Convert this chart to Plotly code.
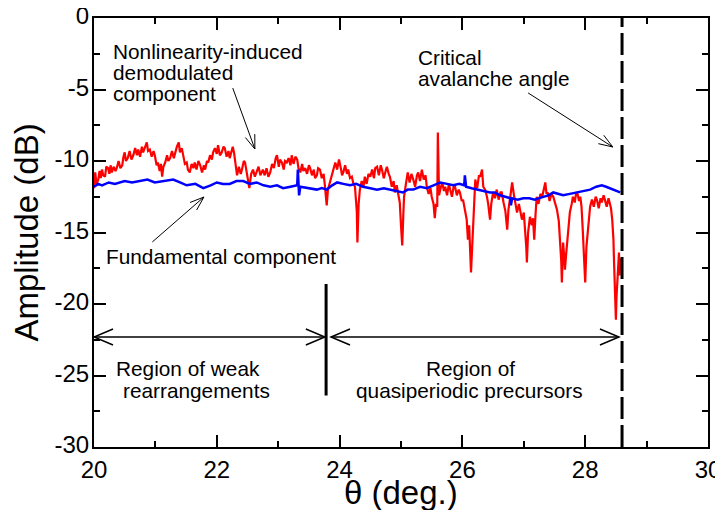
import plotly.graph_objects as go

# ---------------- data ----------------
red_theta = [
    20.00, 20.01, 20.02, 20.04, 20.07, 20.09, 20.11, 20.13, 20.15, 20.18,
    20.20, 20.23, 20.25, 20.27, 20.29, 20.32, 20.35, 20.37, 20.40, 20.43,
    20.46, 20.48, 20.50, 20.52, 20.55, 20.58, 20.61, 20.64, 20.67, 20.70,
    20.72, 20.75, 20.78, 20.80, 20.83, 20.86, 20.88, 20.91, 20.94, 20.97,
    20.99, 21.02, 21.04, 21.07, 21.09, 21.11, 21.13, 21.16, 21.19, 21.21,
    21.24, 21.27, 21.30, 21.32, 21.35, 21.38, 21.40, 21.43, 21.45, 21.48,
    21.51, 21.53, 21.56, 21.59, 21.62, 21.64, 21.67, 21.70, 21.73, 21.76,
    21.79, 21.81, 21.84, 21.86, 21.89, 21.92, 21.94, 21.97, 22.00, 22.02,
    22.05, 22.08, 22.11, 22.13, 22.16, 22.19, 22.21, 22.24, 22.26, 22.28,
    22.31, 22.33, 22.36, 22.39, 22.41, 22.44, 22.46, 22.48, 22.51, 22.53,
    22.56, 22.59, 22.62, 22.65, 22.68, 22.71, 22.75, 22.78, 22.81, 22.84,
    22.87, 22.90, 22.93, 22.96, 22.98, 23.01, 23.03, 23.06, 23.09, 23.11,
    23.14, 23.17, 23.20, 23.22, 23.25, 23.28, 23.31, 23.33, 23.36, 23.39,
    23.41, 23.44, 23.47, 23.50, 23.52, 23.55, 23.58, 23.60, 23.63, 23.65,
    23.68, 23.71, 23.74, 23.76, 23.79, 23.81, 23.84, 23.87, 23.90, 23.93,
    23.96, 23.99, 24.02, 24.04, 24.06, 24.09, 24.12, 24.14, 24.17, 24.20,
    24.22, 24.25, 24.28, 24.29, 24.31, 24.33, 24.36, 24.39, 24.41, 24.44,
    24.47, 24.50, 24.53, 24.56, 24.58, 24.61, 24.64, 24.67, 24.69, 24.72,
    24.75, 24.77, 24.80, 24.82, 24.85, 24.88, 24.90, 24.93, 24.95, 24.98,
    25.00, 25.02, 25.04, 25.05, 25.08, 25.11, 25.14, 25.17, 25.20, 25.23,
    25.26, 25.28, 25.31, 25.34, 25.37, 25.40, 25.42, 25.45, 25.48, 25.50,
    25.53, 25.55, 25.57, 25.59, 25.60, 25.61, 25.62, 25.64, 25.67, 25.70,
    25.72, 25.75, 25.78, 25.80, 25.83, 25.86, 25.88, 25.91, 25.94, 25.96,
    25.99, 26.01, 26.04, 26.07, 26.09, 26.11, 26.14, 26.16, 26.17, 26.19,
    26.21, 26.24, 26.27, 26.29, 26.32, 26.34, 26.37, 26.40, 26.42, 26.45,
    26.47, 26.50, 26.53, 26.56, 26.59, 26.62, 26.64, 26.67, 26.70, 26.73,
    26.75, 26.78, 26.81, 26.84, 26.87, 26.89, 26.92, 26.95, 26.97, 27.00,
    27.02, 27.04, 27.05, 27.07, 27.10, 27.13, 27.15, 27.17, 27.19, 27.21,
    27.24, 27.27, 27.30, 27.32, 27.35, 27.37, 27.39, 27.42, 27.45, 27.48,
    27.51, 27.54, 27.57, 27.59, 27.61, 27.62, 27.63, 27.64, 27.66, 27.67,
    27.69, 27.70, 27.72, 27.75, 27.78, 27.80, 27.83, 27.85, 27.87, 27.90,
    27.92, 27.94, 27.96, 27.98, 28.00, 28.02, 28.05, 28.08, 28.11, 28.14,
    28.17, 28.19, 28.22, 28.25, 28.27, 28.30, 28.32, 28.35, 28.38, 28.40,
    28.42, 28.44, 28.46, 28.47, 28.49, 28.50, 28.51, 28.52, 28.53, 28.55,
    28.56, 28.57, 28.58, 28.59,
]
red_amp = [
    -11.9, -11.0, -10.8, -11.6, -11.3, -10.7, -11.2, -10.6, -11.0, -11.1,
    -10.4, -10.5, -10.9, -10.3, -10.8, -10.4, -10.7, -10.5, -10.0, -10.5,
    -10.3, -9.7, -9.4, -10.0, -9.8, -9.3, -9.9, -9.6, -9.1, -9.6,
    -9.2, -9.7, -9.0, -9.4, -9.0, -8.7, -9.3, -9.2, -9.7, -9.3,
    -9.6, -10.3, -10.1, -10.7, -10.2, -11.1, -10.4, -10.1, -9.6, -10.0,
    -9.8, -9.3, -9.8, -9.4, -9.0, -8.7, -9.4, -9.1, -9.6, -10.2,
    -10.1, -10.6, -10.8, -10.2, -10.5, -10.1, -10.6, -10.0, -10.3, -10.8,
    -10.3, -10.6, -10.0, -10.1, -9.6, -9.9, -9.4, -9.1, -9.5, -8.9,
    -9.6, -9.4, -9.0, -9.1, -9.7, -9.3, -9.8, -9.3, -9.0, -9.4,
    -10.2, -11.0, -10.4, -10.9, -10.6, -10.0, -10.1, -10.7, -11.3, -11.9,
    -10.9, -10.6, -11.1, -10.8, -10.4, -11.0, -10.6, -11.0, -10.5, -11.1,
    -10.8, -10.2, -10.5, -9.8, -9.6, -10.4, -9.9, -10.1, -10.6, -10.0,
    -10.1, -9.8, -10.3, -9.6, -10.2, -9.7, -9.9, -10.5, -10.8, -10.2,
    -10.7, -10.5, -10.9, -10.3, -10.5, -11.0, -10.6, -11.2, -11.0, -10.5,
    -10.6, -11.2, -10.9, -11.7, -13.1, -12.0, -11.5, -10.9, -10.5, -10.1,
    -10.6, -9.9, -10.5, -11.0, -10.8, -10.3, -10.9, -10.6, -11.2, -11.1,
    -11.5, -11.8, -13.5, -15.7, -13.0, -12.0, -11.4, -11.8, -11.1, -11.6,
    -10.9, -11.1, -10.6, -11.2, -10.5, -10.4, -11.0, -10.3, -10.6, -11.2,
    -10.7, -10.4, -10.9, -11.1, -11.8, -11.4, -12.2, -11.7, -12.2, -12.9,
    -14.5, -15.9, -13.5, -12.5, -11.6, -10.8, -11.5, -10.9, -11.3, -11.8,
    -11.0, -10.8, -11.4, -10.6, -11.3, -11.0, -11.8, -12.3, -11.9, -12.5,
    -13.0, -14.0, -13.0, -13.2, -8.0, -11.5, -12.4, -12.0, -11.5, -12.1,
    -11.8, -12.4, -11.6, -12.0, -12.5, -11.7, -11.8, -12.4, -12.0, -12.2,
    -12.8, -12.7, -13.5, -14.1, -15.5, -14.5, -17.8, -16.0, -14.8, -12.5,
    -11.3, -11.9, -11.0, -11.1, -10.6, -11.8, -12.0, -12.5, -13.0, -14.1,
    -13.0, -12.2, -12.6, -12.0, -12.7, -12.2, -12.2, -12.9, -13.5, -14.8,
    -13.4, -12.5, -11.5, -12.4, -13.0, -13.6, -13.0, -13.8, -14.1, -13.6,
    -14.6, -16.0, -17.1, -15.0, -13.9, -14.5, -14.0, -15.5, -13.8, -12.5,
    -13.0, -12.3, -12.5, -12.0, -11.5, -12.3, -12.2, -12.8, -12.3, -12.5,
    -12.9, -13.4, -14.2, -15.5, -17.0, -18.5, -16.5, -15.7, -16.8, -17.6,
    -16.5, -16.0, -14.5, -13.6, -13.0, -12.5, -12.9, -12.3, -12.2, -12.8,
    -12.5, -13.2, -14.8, -16.5, -18.5, -16.0, -14.3, -13.2, -12.7, -13.2,
    -12.5, -12.7, -13.3, -12.6, -12.9, -12.4, -12.7, -13.2, -12.6, -12.9,
    -13.3, -14.1, -15.5, -17.1, -19.0, -21.1, -19.5, -18.8, -17.5, -16.4,
    -18.0, -17.0, -17.6, -16.8,
]

blue_theta = [20.00, 20.07, 20.13, 20.24, 20.34, 20.50, 20.62, 20.75, 20.87, 20.99,
              21.14, 21.29, 21.40, 21.51, 21.65, 21.78, 21.90, 22.00, 22.10, 22.21,
              22.32, 22.43, 22.54, 22.65, 22.76, 22.87, 22.98, 23.08, 23.20, 23.31,
              23.32, 23.34, 23.36, 23.50, 23.63, 23.71, 23.79, 23.88, 23.96, 24.06,
              24.17, 24.27, 24.38, 24.50, 24.61, 24.72, 24.82, 24.93, 25.03, 25.11,
              25.20, 25.31, 25.42, 25.53, 25.64, 25.75, 25.85, 25.95, 26.03, 26.04,
              26.06, 26.15, 26.24, 26.35, 26.45, 26.53, 26.61, 26.70, 26.78, 26.79,
              26.81, 26.90, 26.99, 27.09, 27.18, 27.25, 27.31, 27.40, 27.48, 27.56,
              27.64, 27.75, 27.87, 27.98, 28.08, 28.18, 28.27, 28.34, 28.40, 28.49,
              28.57]
blue_amp = [-11.8, -11.6, -11.7, -11.5, -11.6, -11.4, -11.5, -11.4, -11.3, -11.5,
            -11.4, -11.3, -11.5, -11.7, -11.6, -11.9, -11.7, -11.5, -11.6, -11.6,
            -11.4, -11.4, -11.6, -11.5, -11.7, -11.8, -11.7, -11.9, -11.8, -11.7,
            -10.6, -12.4, -11.8, -11.9, -12.0, -11.9, -12.0, -11.7, -11.5, -11.6,
            -11.7, -11.6, -11.8, -11.9, -12.0, -11.9, -12.0, -12.1, -12.2, -12.0,
            -12.0, -11.8, -11.9, -11.7, -11.5, -11.6, -11.7, -11.6, -11.7, -11.0,
            -11.8, -11.9, -12.0, -12.1, -12.2, -12.2, -12.4, -12.5, -12.6, -13.1,
            -12.6, -12.7, -12.6, -12.6, -12.7, -12.6, -12.5, -12.4, -12.2, -12.3,
            -12.4, -12.3, -12.2, -12.1, -12.0, -11.8, -11.7, -11.8, -11.9, -12.1,
            -12.2]

x_ticks = [20, 22, 24, 26, 28, 30]
x_ticktext = ["20", "22", "24", "26", "28", "30"]
y_ticks = [0, -5, -10, -15, -20, -25, -30]
y_ticktext = ["0", "-5", "-10", "-15", "-20", "-25", "-30"]

critical_angle = 28.6
region_boundary = 23.78

# ---------------- layout geometry ----------------
# the page body has an 8px default margin, so the figure starts at (8, 8)
OFF = 8
PL, PT, PR, PB = 94, 18, 708, 447          # plot frame in page pixels
W, H = 723 - OFF, 510 - OFF
ML, MT = PL - OFF, PT - OFF
MR, MB = W - (PR - OFF), H - (PB - OFF)
XR = (20, 30)
YR = (-30, 0)
SX = (PR - PL) / (XR[1] - XR[0])
SY = (PB - PT) / (YR[1] - YR[0])

FONT = "Liberation Sans, Arial, Helvetica, sans-serif"

def to_px(x, y):
    return (x - XR[0]) * SX, (YR[1] - y) * SY

def to_data(px, py):
    return XR[0] + px / SX, YR[1] - py / SY

def v_head(x0, y0, x1, y1, length, half):
    """open V arrowhead at (x1, y1) pointing from (x0, y0)"""
    p0 = to_px(x0, y0)
    p1 = to_px(x1, y1)
    dx, dy = p1[0] - p0[0], p1[1] - p0[1]
    n = (dx * dx + dy * dy) ** 0.5
    ux, uy = dx / n, dy / n
    nx, ny = -uy, ux
    a = to_data(p1[0] - ux * length + nx * half, p1[1] - uy * length + ny * half)
    b = to_data(p1[0] - ux * length - nx * half, p1[1] - uy * length - ny * half)
    return f"M {a[0]},{a[1]} L {x1},{y1} L {b[0]},{b[1]}"

shapes = []

def arrow(x0, y0, x1, y1, length=14, half=5, width=1, both=False):
    shapes.append(dict(type="line", xref="x", yref="y", x0=x0, y0=y0, x1=x1, y1=y1,
                       line=dict(color="black", width=width)))
    shapes.append(dict(type="path", xref="x", yref="y", path=v_head(x0, y0, x1, y1, length, half),
                       line=dict(color="black", width=width)))
    if both:
        shapes.append(dict(type="path", xref="x", yref="y", path=v_head(x1, y1, x0, y0, length, half),
                           line=dict(color="black", width=width)))

# annotation arrows
arrow(22.26, -4.90, 22.62, -9.16)
arrow(27.07, -5.24, 28.45, -9.02)
arrow(20.95, -15.66, 21.79, -12.52)
# region double arrows
arrow(20.0, -22.31, 23.76, -22.31, length=19, half=8, width=1.5, both=True)
arrow(23.86, -22.31, 28.55, -22.31, length=19, half=8, width=1.5, both=True)
# region boundary
shapes.append(dict(type="line", xref="x", yref="y", x0=region_boundary, x1=region_boundary,
                   y0=-18.6, y1=-26.4, line=dict(color="black", width=3)))
# critical angle dashed line
shapes.append(dict(type="line", xref="x", yref="paper", x0=critical_angle, x1=critical_angle,
                   y0=0, y1=1, line=dict(color="black", width=3, dash="22px,6px")))

fig = go.Figure()
fig.add_trace(go.Scatter(x=red_theta, y=red_amp, mode="lines",
                         line=dict(color="#ff0000", width=2.2), showlegend=False))
fig.add_trace(go.Scatter(x=blue_theta, y=blue_amp, mode="lines",
                         line=dict(color="#0000ff", width=2.5), showlegend=False))

annotations = []

def label(text, xd, yd, xanchor="left"):
    annotations.append(dict(text=text, x=xd, y=yd, xref="x", yref="y", showarrow=False,
                            xanchor=xanchor, yanchor="middle",
                            font=dict(family=FONT, size=20.8, color="black")))

def at_px(px, py):
    """page pixel -> data coordinates"""
    return to_data(px - PL, py - PT)

for t, py in [("Nonlinearity-induced", 51), ("demodulated", 72), ("component", 93)]:
    xd, yd = at_px(111, py)
    label(t, xd, yd)
for t, py in [("Critical", 57), ("avalanche angle", 78)]:
    xd, yd = at_px(416, py)
    label(t, xd, yd)
xd, yd = at_px(104, 256)
label("Fundamental component", xd, yd)
for t, px, py in [("Region of weak", 188, 368), ("rearrangements", 196, 390),
                  ("Region of", 470, 368), ("quasiperiodic precursors", 469, 390)]:
    xd, yd = at_px(px, py)
    label(t, xd, yd, xanchor="center")

# x-axis title placed explicitly below the tick labels
annotations.append(dict(text="θ (deg.)", x=0.5, y=0, xref="paper", yref="paper",
                        yanchor="middle", xanchor="center", yshift=-(492 - PB),
                        showarrow=False, font=dict(family=FONT, size=33, color="black")))

axis_common = dict(showline=True, linewidth=2, linecolor="black", mirror="ticks",
                   ticks="inside", ticklen=12, tickwidth=1.5, tickcolor="black",
                   showgrid=False, zeroline=False, automargin=False,
                   ticklabeloverflow="allow",
                   tickfont=dict(family=FONT, size=24, color="black"))

fig.update_layout(
    width=W, height=H,
    margin=dict(l=ML, r=MR, t=MT, b=MB),
    paper_bgcolor="white", plot_bgcolor="white",
    shapes=shapes, annotations=annotations,
    xaxis=dict(range=list(XR), tickvals=x_ticks, ticktext=x_ticktext,
               minor=dict(ticks="inside", ticklen=6, tickwidth=1.5, tickcolor="black",
                          dtick=1, tick0=20, showgrid=False),
               **axis_common),
    yaxis=dict(range=list(YR), tickvals=y_ticks, ticktext=y_ticktext,
               minor=dict(ticks="inside", ticklen=6, tickwidth=1.5, tickcolor="black",
                          dtick=2.5, tick0=0, showgrid=False),
               ticklabelstandoff=-2, ticklabelshift=-2,
               title=dict(text="Amplitude (dB)", font=dict(family=FONT, size=33, color="black"),
                          standoff=8),
               **axis_common),
)

fig.write_html("out.html")
